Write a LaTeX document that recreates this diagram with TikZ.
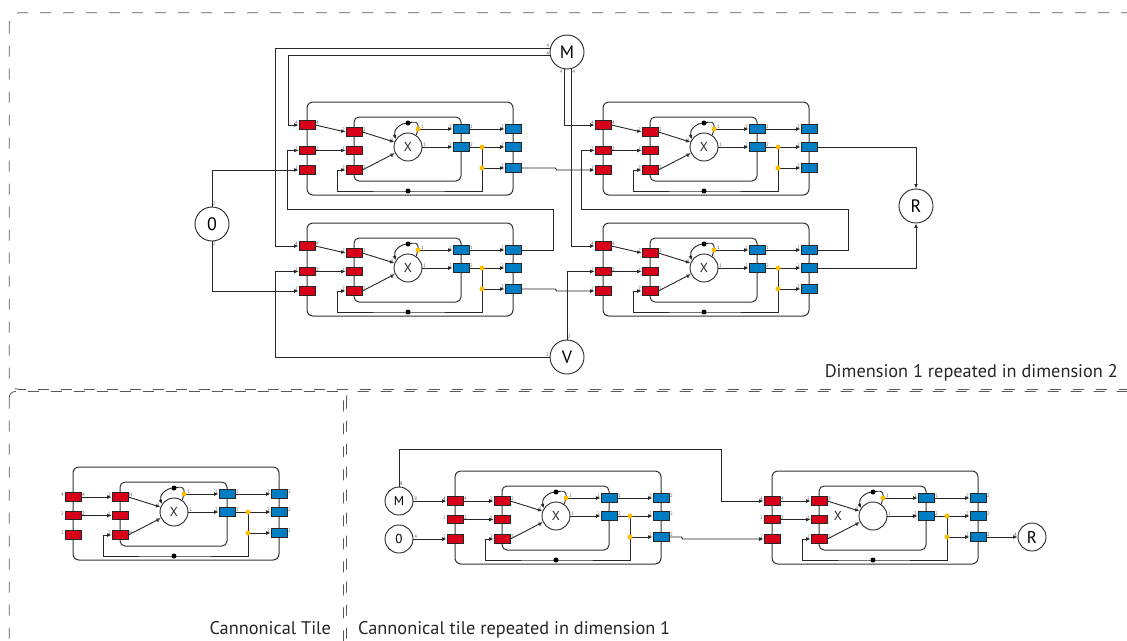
\documentclass[tikz,border=0pt]{standalone}
\usepackage{fontspec}
\setmainfont{PT Sans}
\usetikzlibrary{arrows.meta}
\pgfdeclarelayer{bg}
\pgfsetlayers{bg,main}
\definecolor{tred}{RGB}{215,0,25}
\definecolor{tblue}{RGB}{0,125,195}
\definecolor{tyel}{RGB}{255,190,0}
\tikzset{
  ln/.style={draw=black!85, line width=0.9pt},
  arr/.style={ln, -{Latex[length=4.5pt,width=3.8pt]}},
  frm/.style={draw=black!80, line width=1pt, rounded corners=6pt},
  rbox/.style={draw=black!85, fill=tred, line width=0.7pt, minimum width=16pt, minimum height=8.5pt, inner sep=0pt},
  bbox/.style={rbox, fill=tblue},
  ydot/.style={circle, fill=tyel, minimum size=5pt, inner sep=0pt},
  kdot/.style={circle, fill=black, minimum size=5pt, inner sep=0pt},
  xcirc/.style={circle, draw=black!85, line width=0.9pt, fill=white, minimum size=28pt, inner sep=0pt},
  bigc/.style={circle, draw=black!85, line width=0.9pt, fill=white, minimum size=34pt, inner sep=0pt, font=\fontsize{18}{18}\selectfont},
  smc/.style={bigc, minimum size=28pt, font=\fontsize{13}{13}\selectfont},
  lab/.style={font=\fontsize{5}{5}\selectfont, text=black!60, inner sep=0.6pt},
  labw/.style={label={[lab,anchor=north east]north west:#1}},
  labe/.style={label={[lab,anchor=north west]north east:#1}},
  dsh/.style={draw=black!65, line width=0.8pt, dash pattern=on 11pt off 12pt},
  captxt/.style={font=\fontsize{18.3}{18.3}\selectfont, text=black!85, inner sep=0pt},
}
% #1 name, #2 x, #3 y, #4 outer red 1 y, #5 X label x, #6 inner red east label, #7 outer blue east label
\newcommand\tile[7]{%
\begin{scope}[shift={(#2,#3)}]
 \node[rbox,labw=4,labe=4] (#1r1) at (0,#4) {};
 \node[rbox,labw=2,labe=2] (#1r2) at (0,48.5) {};
 \node[rbox,labw=2] (#1r3) at (0,68) {};
 \node[rbox,labw=2,labe=#6] (#1i1) at (47,30) {};
 \node[rbox,labw=1] (#1i2) at (47,48.5) {};
 \node[rbox,labw=2,labe=#6] (#1i3) at (47,68) {};
 \node[xcirc,label={[lab]160:1},label={[lab]205:1},label={[lab,anchor=south west]east:1}] (#1x) at (101,45) {};
 \node[font=\fontsize{13}{13}\selectfont,inner sep=0pt,text=black!85] (#1xl) at (#5,45) {X};
 \node[bbox,labw=1,labe=1] (#1b1) at (154,27) {};
 \node[bbox,labw=2,labe=2] (#1b2) at (154,45) {};
 \node[bbox,labw=2,labe=#7] (#1o1) at (206,27) {};
 \node[bbox,labw=2,labe=#7] (#1o2) at (206,45) {};
 \node[bbox,labw=2,labe=#7] (#1o3) at (206,66) {};
 \node[ydot,label={[lab,anchor=south west,inner sep=0.3pt]east:1}] (#1y1) at (111,27) {};
 \node[ydot] (#1y2) at (175,45) {};
 \node[ydot] (#1y3) at (175,66) {};
 \node[kdot] (#1k1) at (101,21) {};
 \node[kdot] (#1k2) at (101,89) {};
 \coordinate (#1fb) at (30,89);
 \begin{pgfonlayer}{bg}
  \draw[frm] (0,0) rectangle (206,93);
  \draw[frm,rounded corners=5pt] (47,15) rectangle (154,79);
  \draw[arr] (#1r1.east) -- (#1i1.west);
  \draw[arr] (#1r2.east) -- (#1i2.west);
  \draw[arr] (#1i1.east) -- (#1x.160);
  \draw[arr] (#1i3.east) -- (#1x.205);
  \draw[ln] (#1x.55) -- (#1y1.center);
  \draw[arr] (#1y1.center) .. controls (112,18) and (107,20) .. (#1k1.center) .. controls (93,21) and (86,28) .. (#1x.148);
  \draw[arr] (#1y1.center) -- (#1b1.west);
  \draw[arr] (#1x.east) -- (#1b2.west);
  \draw[arr] (#1b1.east) -- (#1o1.west);
  \draw[ln] (#1b2.east) -- (#1y2.center);
  \draw[arr] (#1y2.center) -- (#1o2.west);
  \draw[ln] (#1y2.center) -- (#1y3.center);
  \draw[arr] (#1y3.center) -- (#1o3.west);
  \draw[arr] (#1y3.center) |- (#1k2.center) -- (#1fb) |- (#1i3.west);
 \end{pgfonlayer}
\end{scope}}
\begin{document}
\begin{tikzpicture}[x=1pt,y=-1pt]
\clip (0,0) rectangle (1127,640);
% panels
\draw[dsh, rounded corners=10pt] (9.3,12.7) rectangle (1160,389.5);
\draw[dsh, rounded corners=6pt] (9.3,391.5) rectangle (343.5,700);
\draw[dsh, rounded corners=6pt] (346.5,391.5) rectangle (1160,700);
% tiles
\tile{A}{307}{102}{23}{101}{2}{}
\tile{B}{307}{223}{23}{101}{2}{}
\tile{C}{603}{102}{23}{101}{2}{}
\tile{D}{603}{223}{23}{101}{2}{}
\tile{E}{73}{467}{30}{101}{N}{2}
\tile{F}{455}{471}{30}{101}{2}{2}
\tile{G}{772}{471}{30}{66}{2}{2}
% top circles
\node[bigc] (M) at (567,52) {M};
\node[bigc] (Z) at (212,224) {0};
\node[bigc] (V) at (567,357) {V};
\node[bigc] (R) at (916,206) {R};
\node[lab,anchor=south east] (lm1) at (M.167) {4};
\node[lab,anchor=south east] (lm2) at (M.193) {4};
\node[lab,anchor=north east] (lm3) at ([xshift=-0.5pt]M.260) {4};
\node[lab,anchor=north west] (lm4) at (M.285) {4};
\node[lab,anchor=south west] (lz1) at (Z.north) {2};
\node[lab,anchor=north west] (lz2) at (Z.south) {2};
\node[lab,anchor=south west] (lv1) at (V.north) {2};
\node[lab,anchor=south east] (lv2) at (V.west) {2};
% bottom circles
\node[smc] (M2) at (399,501) {M};
\node[smc] (Z2) at (399,539) {0};
\node[smc,font=\fontsize{17}{17}\selectfont] (R2) at (1032,537) {R};
\node[lab,anchor=south west] (lb1) at (M2.north) {8};
\node[lab,anchor=south west] (lb2) at (M2.east) {8};
\node[lab,anchor=south west] (lb3) at (Z2.east) {4};
\node[lab,anchor=south east] (lb4) at (R2.west) {4};
\coordinate (bl1) at (553,209);
\coordinate (bl2) at (287,209);
\coordinate (dl1) at (848,209);
\coordinate (dl2) at (581,209);
\coordinate (mt) at (721,449);
\begin{pgfonlayer}{bg}
\draw[arr] (M.167) -| ([xshift=-23pt]Br1.west) -- (Br1.west);
\draw[arr] (M.193) -| ([xshift=-10pt]Ar1.west) -- (Ar1.west);
\draw[arr] (M.260) |- (Cr1.west);
\draw[arr] (M.285) |- (Dr1.west);
\draw[arr] (Z.north) |- (Ar3.west);
\draw[arr] (Z.south) |- (Br3.west);
\draw[arr] (V.west) -| ([xshift=-23pt]Br2.west) -- (Br2.west);
\draw[arr] (V.north) |- (Dr2.west);
\draw[arr] (Ao3.east) -- ([xshift=34pt]Ao3.east) -- ([xshift=-38pt]Cr3.west) -- (Cr3.west);
\draw[arr] (Bo3.east) -- ([xshift=34pt]Bo3.east) -- ([xshift=-38pt]Dr3.west) -- (Dr3.west);
\draw[arr] (Bo1.east) -| (bl1) -- (bl2) |- (Ar2.west);
\draw[arr] (Do1.east) -| (dl1) -- (dl2) |- (Cr2.west);
\draw[arr] (Co2.east) -| (R.north);
\draw[arr] (Do2.east) -| (R.south);
\draw[arr] (M2.east) -- (Fr1.west);
\draw[arr] (M2.north) |- (mt) |- (Gr1.west);
\draw[arr] (Z2.east) -- (Fr3.west);
\draw[arr] (Fo3.east) -- ([xshift=12pt]Fo3.east) -- ([xshift=-81pt]Gr3.west) -- (Gr3.west);
\draw[arr] (Go3.east) -- (R2.west);
\end{pgfonlayer}
% captions
\node[captxt,anchor=base east] (t1) at (1118,377) {Dimension 1 repeated in dimension 2};
\node[captxt,anchor=base east] (t2) at (331,634) {Cannonical Tile};
\node[captxt,anchor=base west] (t3) at (358,634) {Cannonical tile repeated in dimension 1};
\end{tikzpicture}
\end{document}
